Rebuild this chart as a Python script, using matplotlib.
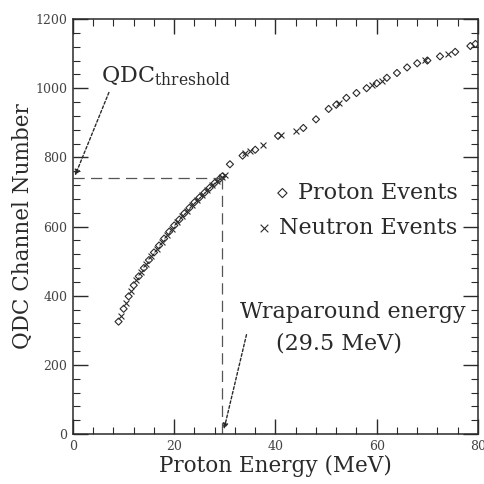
import matplotlib
matplotlib.use("Agg")
import matplotlib.pyplot as plt
from matplotlib.ticker import MultipleLocator

# proton events (energy in MeV, QDC channel)
proton_e = [9.0, 10.0, 11.0, 12.0, 13.0, 14.0, 15.0, 16.0, 17.0, 18.0, 19.0, 20.0,
            21.0, 22.0, 23.0, 24.0, 25.0, 26.0, 27.0, 28.0, 29.0, 29.5,
            31.0, 33.5, 36.0, 40.5, 45.5, 48.0, 50.5, 52.0, 54.0, 56.0, 58.0,
            60.0, 62.0, 64.0, 66.0, 68.0, 70.0, 72.5, 75.5, 78.5, 79.5]
proton_q = [325, 362, 398, 430, 456, 480, 503, 525, 545, 565, 585, 603,
            620, 638, 654, 670, 684, 698, 712, 726, 738, 745,
            780, 805, 822, 862, 885, 910, 940, 952, 972, 986, 1000,
            1014, 1030, 1044, 1060, 1072, 1080, 1092, 1105, 1122, 1128]

# neutron events
neutron_e = [9.5, 10.5, 11.5, 12.5, 13.5, 14.5, 15.5, 16.5, 17.5, 18.5, 19.5, 20.5,
             21.5, 22.5, 23.5, 24.5, 25.5, 26.5, 27.5, 28.5, 29.5, 30.0,
             34.0, 35.0, 37.5, 41.0, 44.0, 52.5, 59.0, 61.0, 69.5, 74.0]
neutron_q = [340, 380, 414, 444, 468, 492, 514, 535, 555, 575, 594, 612,
             629, 646, 662, 677, 691, 705, 719, 732, 742, 750,
             812, 818, 835, 866, 876, 958, 1008, 1020, 1082, 1100]

qdc_threshold = 740
wrap_energy = 29.5

ink = "#2a2a2a"
plt.rcParams['font.family'] = ['DejaVu Serif']

fig = plt.figure(figsize=(4.85, 4.84), dpi=100)
ax = fig.add_axes([0.1505, 0.1033, 0.835, 0.8574])

hp = ax.scatter(proton_e, proton_q, marker="D", s=13, facecolors="none",
                edgecolors=ink, linewidths=0.8, label="Proton Events")
hn = ax.scatter(neutron_e, neutron_q, marker="x", s=18, color=ink,
                linewidths=0.8, label="Neutron Events")

# threshold / wraparound guide lines
ax.plot([0, wrap_energy], [qdc_threshold, qdc_threshold], color="#555555",
        lw=0.9, dashes=(9, 5))
ax.plot([wrap_energy, wrap_energy], [0, qdc_threshold], color="#555555",
        lw=0.9, dashes=(9, 5))

ax.annotate("", xy=(0.2, qdc_threshold), xytext=(7.3, 995),
            arrowprops=dict(arrowstyle="-|>", linestyle=(0, (2, 1.5)),
                            color=ink, lw=1.0, mutation_scale=8))
ax.text(5.5, 1035, r"QDC$_{\mathregular{threshold}}$", fontsize=16, color=ink,
        ha="left", va="center")

ax.annotate("", xy=(29.7, 6), xytext=(34.4, 295),
            arrowprops=dict(arrowstyle="-|>", linestyle=(0, (2, 1.5)),
                            color=ink, lw=1.0, mutation_scale=8))
ax.text(33.0, 352, "Wraparound energy", fontsize=16, color=ink, ha="left", va="center")
ax.text(40.2, 262, "(29.5 MeV)", fontsize=16, color=ink, ha="left", va="center")

ax.set_xlim(0, 80)
ax.set_ylim(0, 1200)
ax.xaxis.set_major_locator(MultipleLocator(20))
ax.xaxis.set_minor_locator(MultipleLocator(4))
ax.yaxis.set_major_locator(MultipleLocator(200))
ax.yaxis.set_minor_locator(MultipleLocator(40))
ax.tick_params(which="both", direction="in", top=True, right=True, colors=ink)
ax.tick_params(which="major", length=11, width=1.0, labelsize=9, pad=4,
               labelcolor="#444444")
ax.tick_params(which="minor", length=5, width=0.8)
for s in ax.spines.values():
    s.set_color(ink)
    s.set_linewidth(1.1)

ax.set_xlabel("Proton Energy (MeV)", fontsize=15.5, color=ink, labelpad=2)
ax.set_ylabel("QDC Channel Number", fontsize=15.5, color=ink, labelpad=1)

# two right-aligned legend rows
leg1 = ax.legend(handles=[hp], loc="center right", bbox_to_anchor=(0.95, 0.581),
                 frameon=False, fontsize=16, handletextpad=0.2, handlelength=1.0,
                 borderpad=0, borderaxespad=0, labelcolor=ink, scatterpoints=1,
                 markerscale=1.3)
ax.add_artist(leg1)
ax.legend(handles=[hn], loc="center right", bbox_to_anchor=(0.95, 0.496),
          frameon=False, fontsize=16, handletextpad=0.2, handlelength=1.0,
          borderpad=0, borderaxespad=0, labelcolor=ink, scatterpoints=1,
          markerscale=1.3)

fig.savefig("out.png", dpi=100)
